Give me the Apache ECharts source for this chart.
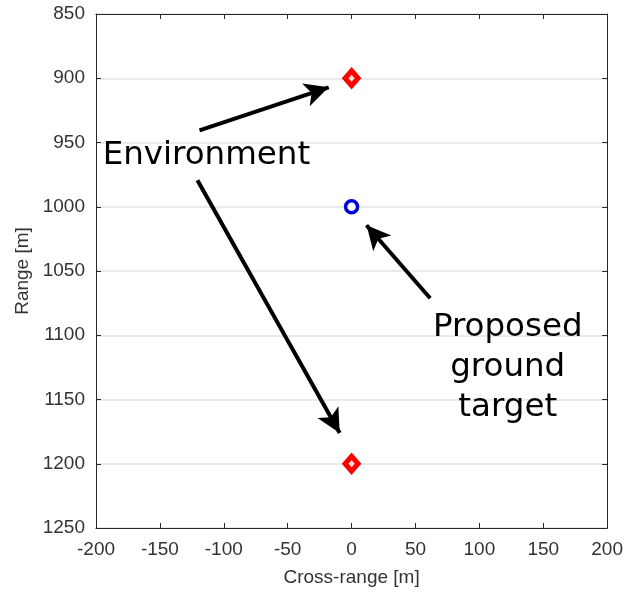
<!DOCTYPE html>
<html>
<head>
<meta charset="utf-8">
<script src="https://cdn.jsdelivr.net/npm/echarts@6/dist/echarts.min.js"></script>
<style>
  html, body { margin: 0; padding: 0; background: #fff; }
  #chart { width: 626px; height: 595px; }
</style>
</head>
<body>
<div id="chart"></div>
<script>
// Scatterer positions: [cross-range, range]
const environmentPoints = [[0, 900], [0, 1200]];
const targetPoints = [[0, 1000]];

// Axis settings
const xTicks = { min: -200, max: 200, step: 50 };
const yTicks = { min: 850, max: 1250, step: 50 };

// Annotation arrows in data coordinates: [from, to]
const arrows = [
  [[-119, 940.6], [-17.9, 907.1]],
  [[-120.6, 979.4], [-9.3, 1176.1]],
  [[61.5, 1071.2], [11.7, 1014.4]]
];
// Annotation texts in data coordinates
const notes = [
  { text: 'Environment', at: [-113.6, 960] },
  { text: 'Proposed\nground\ntarget', at: [122.2, 1125] }
];

const chart = echarts.init(document.getElementById('chart'));
const axisFont = { color: '#333333', fontSize: 19, fontFamily: 'Liberation Sans, Arial, sans-serif' };
const lineStyle = { color: '#262626', width: 1 };
const plain = v => String(v);

chart.setOption({
  backgroundColor: '#fff',
  animation: false,
  grid: { left: 96, right: 15, top: 14, bottom: 67, show: false },
  xAxis: [{
    type: 'value', min: xTicks.min, max: xTicks.max, interval: xTicks.step,
    position: 'bottom',
    name: 'Cross-range [m]', nameLocation: 'middle', nameGap: 40,
    nameTextStyle: axisFont,
    axisLabel: Object.assign({ margin: 12, formatter: plain }, axisFont),
    axisLine: { show: true, onZero: false, lineStyle: lineStyle },
    axisTick: { show: true, inside: true, length: 5, lineStyle: lineStyle },
    splitLine: { show: false }
  }, {
    type: 'value', min: xTicks.min, max: xTicks.max, interval: xTicks.step,
    position: 'top',
    axisLabel: { show: false },
    axisLine: { show: true, onZero: false, lineStyle: lineStyle },
    axisTick: { show: true, inside: true, length: 5, lineStyle: lineStyle },
    splitLine: { show: false }
  }],
  yAxis: [{
    type: 'value', min: yTicks.min, max: yTicks.max, interval: yTicks.step,
    inverse: true, position: 'left',
    name: 'Range [m]', nameLocation: 'middle', nameGap: 62, nameRotate: 90,
    nameTextStyle: axisFont,
    axisLabel: Object.assign({ margin: 11, formatter: plain }, axisFont),
    axisLine: { show: true, onZero: false, lineStyle: lineStyle },
    axisTick: { show: true, inside: true, length: 5, lineStyle: lineStyle },
    splitLine: { show: true, lineStyle: { color: '#e3e3e3', width: 1.5 } }
  }, {
    type: 'value', min: yTicks.min, max: yTicks.max, interval: yTicks.step,
    inverse: true, position: 'right',
    axisLabel: { show: false },
    axisLine: { show: true, onZero: false, lineStyle: lineStyle },
    axisTick: { show: true, inside: true, length: 5, lineStyle: lineStyle },
    splitLine: { show: false }
  }],
  series: [
    {
      name: 'Environment',
      type: 'scatter',
      symbol: 'diamond',
      symbolSize: [13, 15],
      data: environmentPoints,
      itemStyle: { color: '#ffdddd', borderColor: '#ff0000', borderWidth: 5, opacity: 1 },
      z: 5
    },
    {
      name: 'Target',
      type: 'scatter',
      symbol: 'circle',
      symbolSize: 12,
      data: targetPoints,
      itemStyle: { color: '#ffffff', borderColor: '#0000dd', borderWidth: 3.5, opacity: 1 },
      z: 5
    },
    {
      name: 'Annotations',
      type: 'scatter',
      symbolSize: 0,
      data: notes.map(n => ({ value: n.at, name: n.text })),
      itemStyle: { opacity: 1 },
      label: {
        show: true, position: 'inside',
        formatter: p => p.name,
        color: '#000000', fontSize: 32.5, lineHeight: 40,
        textBorderWidth: 0,
        fontFamily: 'DejaVu Sans, sans-serif', align: 'center', verticalAlign: 'middle'
      },
      markLine: {
        silent: true,
        symbol: ['none', 'arrow'],
        symbolSize: [18, 24],
        label: { show: false },
        lineStyle: { color: '#000', width: 4, type: 'solid', opacity: 1 },
        data: arrows.map(a => [{ coord: a[0] }, { coord: a[1] }])
      },
      z: 10
    }
  ]
});
</script>
</body>
</html>
